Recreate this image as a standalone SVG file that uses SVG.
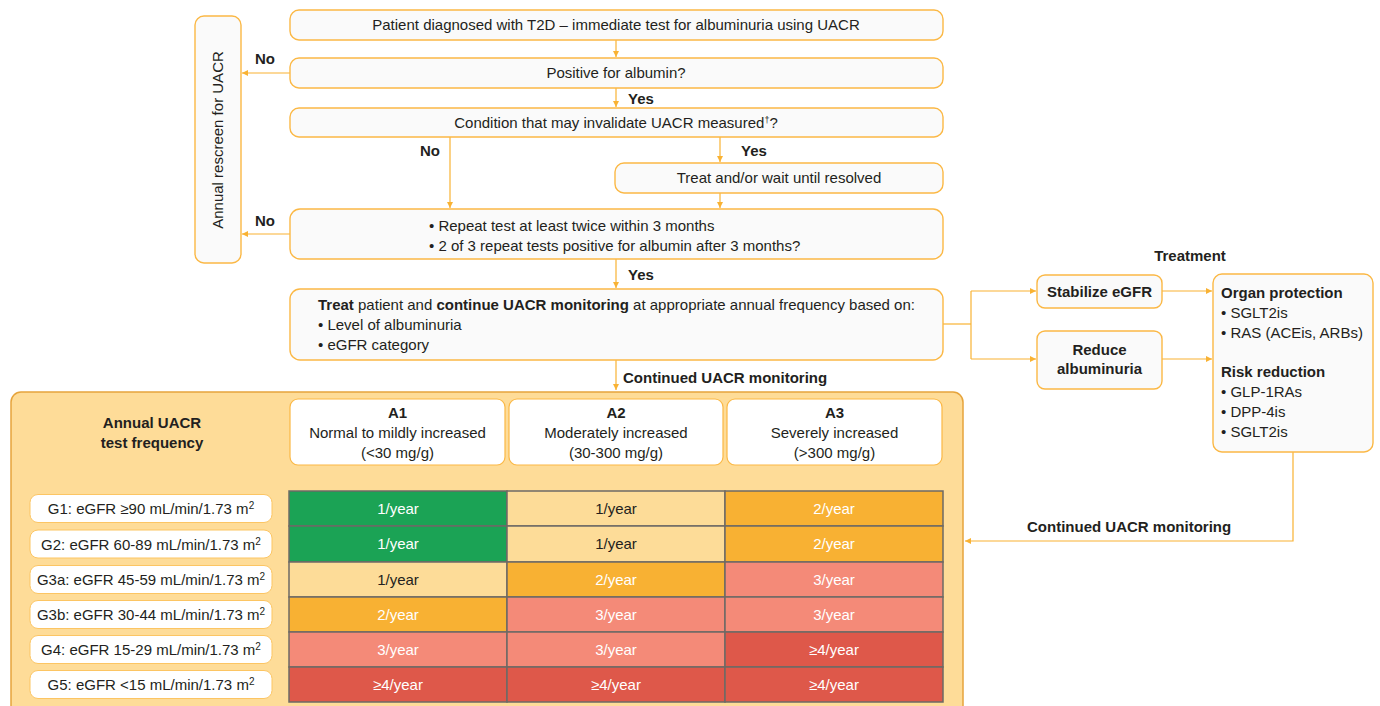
<svg xmlns="http://www.w3.org/2000/svg" width="1380" height="706" viewBox="0 0 1380 706">
<defs>
<marker id="ah" markerUnits="userSpaceOnUse" markerWidth="6" markerHeight="6" refX="6" refY="3" orient="auto">
<path d="M0,0 L6,3 L0,6 z" fill="#F9B233"/>
</marker>
<style>
.box{fill:#FAFAFA;stroke:#FBB845;stroke-width:1.4}
.hdr{fill:#FFFFFF;stroke:#FBB845;stroke-width:1.2}
.lbl{fill:#FFFFFF;stroke:#FCC563;stroke-width:1}
.t{font-family:"Liberation Sans",Arial,sans-serif;font-size:15px;fill:#231F20}
.b{font-weight:bold}
.c{text-anchor:middle}
.w{fill:#FFFFFF}
.ln{fill:none;stroke:#F9B233;stroke-width:1.2}
.cell{stroke:#6D6A65;stroke-width:1.5}
.g{fill:#1BA355}.y{fill:#FDDC98}.o{fill:#F8B133}.s{fill:#F48A78}.r{fill:#DE584A}
</style>
</defs>
<rect width="1380" height="706" fill="#FFFFFF"/>

<g id="connectors">
<path class="ln" d="M616,40 V57" marker-end="url(#ah)"/>
<path class="ln" d="M616,88 V107" marker-end="url(#ah)"/>
<path class="ln" d="M290,73 H242" marker-end="url(#ah)"/>
<path class="ln" d="M720,137 V162" marker-end="url(#ah)"/>
<path class="ln" d="M450,137 V208" marker-end="url(#ah)"/>
<path class="ln" d="M720,193 V208" marker-end="url(#ah)"/>
<path class="ln" d="M290,234 H242" marker-end="url(#ah)"/>
<path class="ln" d="M616,259 V288" marker-end="url(#ah)"/>
<path class="ln" d="M616,360 V390" marker-end="url(#ah)"/>
<path class="ln" d="M943,324 H971"/>
<path class="ln" d="M971,291 V359"/>
<path class="ln" d="M971,291 H1036" marker-end="url(#ah)"/>
<path class="ln" d="M971,359 H1036" marker-end="url(#ah)"/>
<path class="ln" d="M1162,291 H1212" marker-end="url(#ah)"/>
<path class="ln" d="M1162,359 H1212" marker-end="url(#ah)"/>
<path class="ln" d="M1293,452 V541 H965" marker-end="url(#ah)"/>
<text class="t b" x="265" y="64" text-anchor="middle">No</text>
<text class="t b" x="265" y="226" text-anchor="middle">No</text>
<text class="t b" x="628" y="104">Yes</text>
<text class="t b" x="741" y="156">Yes</text>
<text class="t b" x="420" y="156">No</text>
<text class="t b" x="628" y="280">Yes</text>
<text class="t b" x="623" y="383">Continued UACR monitoring</text>
<text class="t b" x="1027" y="532">Continued UACR monitoring</text>
<text class="t b c" x="1190" y="261">Treatment</text>
</g>

<g id="rescreen">
<rect class="box" x="195" y="16" width="46" height="247" rx="9"/>
<text class="t c" transform="translate(223,140) rotate(-90)">Annual rescreen for UACR</text>
</g>

<g id="diagnosed">
<rect class="box" x="290" y="10" width="653" height="30" rx="9"/>
<text class="t c" x="616" y="30">Patient diagnosed with T2D – immediate test for albuminuria using UACR</text>
</g>

<g id="positive">
<rect class="box" x="290" y="58" width="653" height="30" rx="9"/>
<text class="t c" x="616" y="78">Positive for albumin?</text>
</g>

<g id="condition">
<rect class="box" x="290" y="108" width="653" height="29" rx="9"/>
<text class="t c" x="616" y="127.5">Condition that may invalidate UACR measured<tspan font-size="9" dy="-5">†</tspan><tspan dy="5">?</tspan></text>
</g>

<g id="treatwait">
<rect class="box" x="615" y="163" width="328" height="30" rx="9"/>
<text class="t c" x="779" y="183">Treat and/or wait until resolved</text>
</g>

<g id="repeat">
<rect class="box" x="290" y="209" width="653" height="50" rx="10"/>
<text class="t" x="429" y="231">• Repeat test at least twice within 3 months</text>
<text class="t" x="429" y="251">• 2 of 3 repeat tests positive for albumin after 3 months?</text>
</g>

<g id="treatpatient">
<rect class="box" x="290" y="289" width="653" height="71" rx="10"/>
<text class="t" x="318" y="310"><tspan class="b">Treat</tspan> patient and <tspan class="b">continue UACR monitoring</tspan> at appropriate annual frequency based on:</text>
<text class="t" x="318" y="330">• Level of albuminuria</text>
<text class="t" x="318" y="350">• eGFR category</text>
</g>

<g id="stabilize">
<rect class="box" x="1037" y="275" width="125" height="33" rx="8"/>
<text class="t b c" x="1099.5" y="297">Stabilize eGFR</text>
</g>

<g id="reduce">
<rect class="box" x="1037" y="331" width="125" height="58" rx="8"/>
<text class="t b c" x="1099.5" y="355">Reduce</text>
<text class="t b c" x="1099.5" y="374">albuminuria</text>
</g>

<g id="treatment">
<rect class="box" x="1213" y="274" width="160" height="178" rx="9"/>
<text class="t b" x="1221" y="298">Organ protection</text>
<text class="t" x="1221" y="318">• SGLT2is</text>
<text class="t" x="1221" y="338">• RAS (ACEis, ARBs)</text>
<text class="t b" x="1221" y="377">Risk reduction</text>
<text class="t" x="1221" y="397">• GLP-1RAs</text>
<text class="t" x="1221" y="417">• DPP-4is</text>
<text class="t" x="1221" y="437">• SGLT2is</text>
</g>

<g id="frequency-panel">
<rect x="11" y="392" width="952" height="330" rx="10" fill="#FEDC98" stroke="#E6A43C" stroke-width="1.5"/>
<text class="t b c" x="152" y="428">Annual UACR</text>
<text class="t b c" x="152" y="448">test frequency</text>
</g>

<g id="A1">
<rect class="hdr" x="290" y="399" width="215" height="66" rx="8"/>
<text class="t b c" x="397.5" y="418">A1</text>
<text class="t c" x="397.5" y="438">Normal to mildly increased</text>
<text class="t c" x="397.5" y="458">(&lt;30 mg/g)</text>
</g>
<g id="A2">
<rect class="hdr" x="509" y="399" width="214" height="66" rx="8"/>
<text class="t b c" x="616" y="418">A2</text>
<text class="t c" x="616" y="438">Moderately increased</text>
<text class="t c" x="616" y="458">(30-300 mg/g)</text>
</g>
<g id="A3">
<rect class="hdr" x="727" y="399" width="215" height="66" rx="8"/>
<text class="t b c" x="834.5" y="418">A3</text>
<text class="t c" x="834.5" y="438">Severely increased</text>
<text class="t c" x="834.5" y="458">(&gt;300 mg/g)</text>
</g>

<g id="G1">
<rect class="lbl" x="30" y="494.5" width="242" height="28" rx="8"/>
<text class="t c" x="151" y="514">G1: eGFR ≥90 mL/min/1.73 m<tspan font-size="10" dy="-5">2</tspan></text>
</g>
<g id="G2">
<rect class="lbl" x="30" y="530" width="242" height="28" rx="8"/>
<text class="t c" x="151" y="549.5">G2: eGFR 60-89 mL/min/1.73 m<tspan font-size="10" dy="-5">2</tspan></text>
</g>
<g id="G3a">
<rect class="lbl" x="30" y="565.5" width="242" height="28" rx="8"/>
<text class="t c" x="151" y="585">G3a: eGFR 45-59 mL/min/1.73 m<tspan font-size="10" dy="-5">2</tspan></text>
</g>
<g id="G3b">
<rect class="lbl" x="30" y="600.5" width="242" height="28" rx="8"/>
<text class="t c" x="151" y="620">G3b: eGFR 30-44 mL/min/1.73 m<tspan font-size="10" dy="-5">2</tspan></text>
</g>
<g id="G4">
<rect class="lbl" x="30" y="635.5" width="242" height="28" rx="8"/>
<text class="t c" x="151" y="655">G4: eGFR 15-29 mL/min/1.73 m<tspan font-size="10" dy="-5">2</tspan></text>
</g>
<g id="G5">
<rect class="lbl" x="30" y="670.5" width="242" height="28" rx="8"/>
<text class="t c" x="151" y="690">G5: eGFR &lt;15 mL/min/1.73 m<tspan font-size="10" dy="-5">2</tspan></text>
</g>

<g id="table">
<rect class="cell g" x="289" y="491" width="218" height="35"/>
<rect class="cell y" x="507" y="491" width="218" height="35"/>
<rect class="cell o" x="725" y="491" width="218" height="35"/>
<rect class="cell g" x="289" y="526" width="218" height="36"/>
<rect class="cell y" x="507" y="526" width="218" height="36"/>
<rect class="cell o" x="725" y="526" width="218" height="36"/>
<rect class="cell y" x="289" y="562" width="218" height="35"/>
<rect class="cell o" x="507" y="562" width="218" height="35"/>
<rect class="cell s" x="725" y="562" width="218" height="35"/>
<rect class="cell o" x="289" y="597" width="218" height="35"/>
<rect class="cell s" x="507" y="597" width="218" height="35"/>
<rect class="cell s" x="725" y="597" width="218" height="35"/>
<rect class="cell s" x="289" y="632" width="218" height="35"/>
<rect class="cell s" x="507" y="632" width="218" height="35"/>
<rect class="cell r" x="725" y="632" width="218" height="35"/>
<rect class="cell r" x="289" y="667" width="218" height="35"/>
<rect class="cell r" x="507" y="667" width="218" height="35"/>
<rect class="cell r" x="725" y="667" width="218" height="35"/>
<text class="t c w" x="398" y="513.5">1/year</text>
<text class="t c" x="616" y="513.5">1/year</text>
<text class="t c w" x="834" y="513.5">2/year</text>
<text class="t c w" x="398" y="549">1/year</text>
<text class="t c" x="616" y="549">1/year</text>
<text class="t c w" x="834" y="549">2/year</text>
<text class="t c" x="398" y="584.5">1/year</text>
<text class="t c w" x="616" y="584.5">2/year</text>
<text class="t c w" x="834" y="584.5">3/year</text>
<text class="t c w" x="398" y="619.5">2/year</text>
<text class="t c w" x="616" y="619.5">3/year</text>
<text class="t c w" x="834" y="619.5">3/year</text>
<text class="t c w" x="398" y="654.5">3/year</text>
<text class="t c w" x="616" y="654.5">3/year</text>
<text class="t c w" x="834" y="654.5">≥4/year</text>
<text class="t c w" x="398" y="689.5">≥4/year</text>
<text class="t c w" x="616" y="689.5">≥4/year</text>
<text class="t c w" x="834" y="689.5">≥4/year</text>
</g>
</svg>
